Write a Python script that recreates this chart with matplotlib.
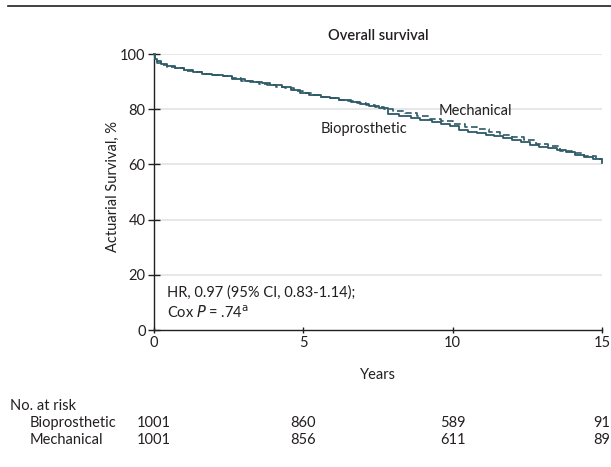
import matplotlib
matplotlib.use("Agg")
import matplotlib.pyplot as plt
from matplotlib.lines import Line2D
from matplotlib import font_manager

names = {f.name for f in font_manager.fontManager.ttflist}
fam = "Liberation Sans Narrow" if "Liberation Sans Narrow" in names else "Lato"
plt.rcParams["font.family"] = [fam, "DejaVu Sans"]

# ---- data ----
bio_t = [0, 0.03, 0.1, 0.25, 0.45, 0.7, 1.0, 1.3, 1.6, 1.95, 2.3, 2.6, 3.05, 3.3, 3.6, 3.9,
         4.3, 4.6, 4.9, 5.2, 5.6, 5.9, 6.2, 6.6, 6.9, 7.2, 7.55, 7.85, 8.2, 8.6, 8.9, 9.3,
         9.6, 9.9, 10.2, 10.5, 10.8, 11.1, 11.4, 11.7, 12.0, 12.3, 12.6, 12.9, 13.2, 13.5,
         13.8, 14.1, 14.4, 14.7, 15.0]
bio_s = [100, 98.2, 97.3, 96.4, 95.6, 95.1, 94.2, 93.4, 92.9, 92.4, 92.0, 90.9, 90.3, 89.8, 89.4, 88.8,
         87.9, 87.0, 86.0, 85.3, 84.5, 83.9, 83.3, 82.6, 82.0, 81.3, 80.3, 78.2, 77.5, 76.7, 76.0, 75.2,
         74.5, 73.8, 72.6, 71.9, 71.3, 70.7, 70.2, 69.6, 69.0, 68.0, 67.0, 66.2, 65.8, 65.3,
         64.6, 63.5, 62.7, 61.8, 60.4]
mech_t = [0, 0.03, 0.1, 0.25, 0.45, 0.7, 1.0, 1.3, 1.6, 1.95, 2.3, 2.6, 2.9, 3.2, 3.5, 3.8,
          4.1, 4.4, 4.7, 5.0, 5.3, 5.6, 5.9, 6.2, 6.5, 6.8, 7.1, 7.4, 7.7, 8.0, 8.4, 8.8,
          9.2, 9.6, 10.0, 10.4, 10.8, 11.2, 11.6, 12.0, 12.4, 12.8, 13.2, 13.6, 14.0, 14.4,
          14.8, 15.0]
mech_s = [100, 97.8, 96.9, 96.1, 95.4, 94.9, 94.0, 93.3, 92.8, 92.3, 91.9, 91.3, 90.2, 89.8, 89.2, 88.7,
          88.1, 87.5, 86.7, 86.0, 85.3, 84.6, 84.0, 83.4, 82.8, 82.2, 81.6, 80.8, 80.0, 79.3, 78.5, 77.6,
          76.6, 75.6, 74.5, 73.6, 72.8, 71.6, 70.8, 70.0, 68.9, 67.5, 66.6, 64.8, 64.0, 63.2,
          62.0, 61.6]

risk_years = [0, 5, 10, 15]
risk_bio = [1001, 860, 589, 91]
risk_mech = [1001, 856, 611, 89]
x_ticks = [0, 5, 10, 15]
y_ticks = [0, 20, 40, 60, 80, 100]

line_color = "#2d5a68"
text_color = "#231f20"
fs = 10.5

fig = plt.figure(figsize=(6.11, 4.67), dpi=100)
ax = fig.add_axes([154 / 611, 1 - 330 / 467, 448 / 611, 276 / 467])

ax.plot(mech_t, mech_s, drawstyle="steps-post", color=line_color, lw=1.2, ls=(0, (4, 2)),
        clip_on=False, zorder=3)
ax.plot(bio_t, bio_s, drawstyle="steps-post", color=line_color, lw=1.3, clip_on=False, zorder=3)

ax.set_xlim(0, 15)
ax.set_ylim(0, 100)
ax.set_xticks(x_ticks)
ax.set_yticks(y_ticks)
for y in y_ticks[1:]:
    ax.axhline(y, color="#e3e3e3", lw=1.2, zorder=1)
for s in ["top", "right"]:
    ax.spines[s].set_visible(False)
for s in ["left", "bottom"]:
    ax.spines[s].set_linewidth(1.0)
    ax.spines[s].set_color("#231f20")
ax.tick_params(axis="x", direction="inout", length=5, width=1, labelsize=fs, colors=text_color, pad=2)
ax.tick_params(axis="y", direction="inout", length=8, width=1, labelsize=fs, colors=text_color, pad=2)

ax.set_xlabel("Years", fontsize=fs, color=text_color, labelpad=13)
ax.set_ylabel("Actuarial Survival, %", fontsize=fs, color=text_color)
ax.yaxis.set_label_coords(-0.076, 0.52)
ax.set_title("Overall survival", fontsize=fs, color=text_color, fontweight="semibold", pad=10)

ax.text(10.77, 79.5, "Mechanical", ha="center", va="center", fontsize=fs, color=text_color)
ax.text(7.02, 73.0, "Bioprosthetic", ha="center", va="center", fontsize=fs, color=text_color)
ax.text(0.43, 13.4, "HR, 0.97 (95% CI, 0.83-1.14);", ha="left", va="center", fontsize=fs, color=text_color)
ax.text(0.43, 6.3, r"Cox $\it{P}$ = .74$^{\mathrm{a}}$", ha="left", va="center", fontsize=fs, color=text_color)

# number at risk
fig.text(10 / 611, 1 - 406 / 467, "No. at risk", ha="left", va="center", fontsize=fs, color=text_color)
fig.text(30 / 611, 1 - 423 / 467, "Bioprosthetic", ha="left", va="center", fontsize=fs, color=text_color)
fig.text(30 / 611, 1 - 440 / 467, "Mechanical", ha="left", va="center", fontsize=fs, color=text_color)
for yr, b, m in zip(risk_years, risk_bio, risk_mech):
    xf = (154 + yr * 448 / 15) / 611
    fig.text(xf, 1 - 423 / 467, str(b), ha="center", va="center", fontsize=fs, color=text_color)
    fig.text(xf, 1 - 440 / 467, str(m), ha="center", va="center", fontsize=fs, color=text_color)

# top rule
fig.add_artist(Line2D([8 / 611, 1.0], [1 - 6 / 467, 1 - 6 / 467], transform=fig.transFigure,
                      color="#231f20", lw=1.2))

fig.savefig("out.png", dpi=100)
